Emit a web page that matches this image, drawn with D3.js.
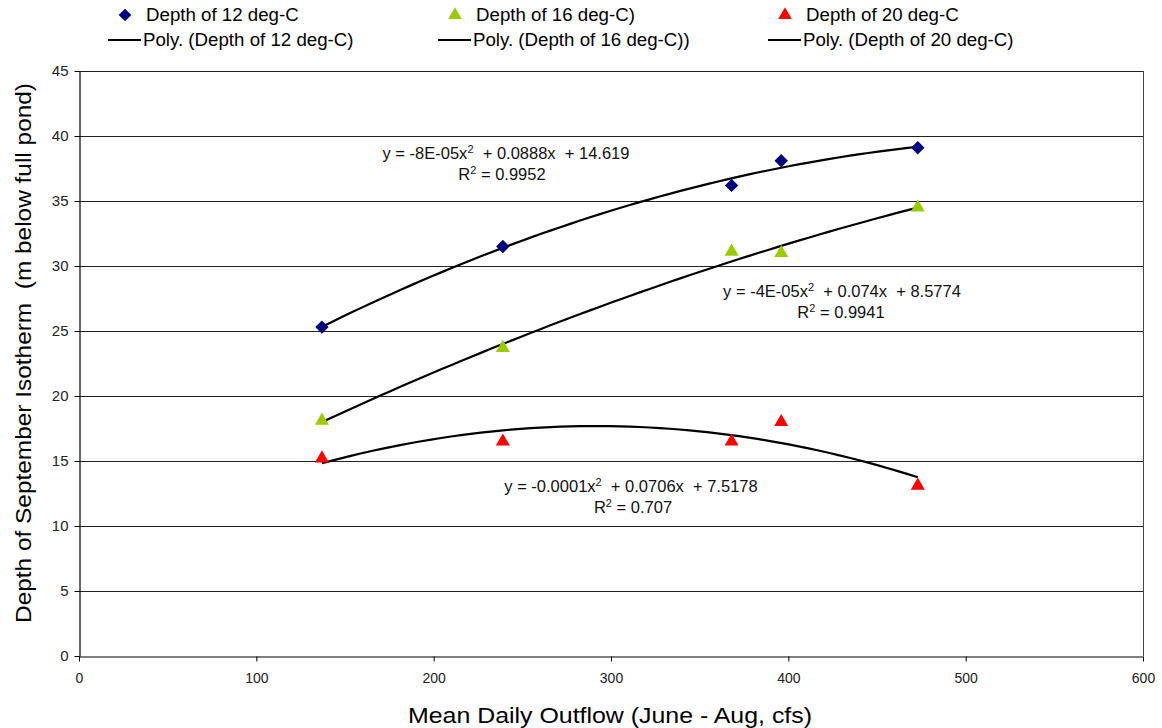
<!DOCTYPE html>
<html>
<head>
<meta charset="utf-8">
<script src="https://cdn.jsdelivr.net/npm/d3@7/dist/d3.min.js"></script>
<style>
  html, body { margin: 0; padding: 0; background: #fff; }
  svg { display: block; font-family: "Liberation Sans", Arial, sans-serif; }
  .eq { white-space: pre; }
</style>
</head>
<body>
<svg id="chart" width="1162" height="728"></svg>
<script>
// Mean daily outflow (cfs) for each year sampled
const outflow = [137, 239, 368, 396, 473];
// Depth of the September isotherm (m below full pond)
const depth12 = [25.3, 31.5, 36.2, 38.1, 39.1];
const depth16 = [18.1, 23.7, 31.1, 31.0, 34.5];
const depth20 = [15.2, 16.5, 16.5, 18.0, 13.1];

const xTicks = [0, 100, 200, 300, 400, 500, 600];
const yTicks = [0, 5, 10, 15, 20, 25, 30, 35, 40, 45];

const seriesNames = ["Depth of 12 deg-C", "Depth of 16 deg-C)", "Depth of 20 deg-C"];
const trendNames = ["Poly. (Depth of 12 deg-C)", "Poly. (Depth of 16 deg-C))", "Poly. (Depth of 20 deg-C)"];
const equations = [
  ["y = -8E-05x", "  + 0.0888x  + 14.619", "0.9952"],
  ["y = -4E-05x", "  + 0.074x  + 8.5774", "0.9941"],
  ["y = -0.0001x", "  + 0.0706x  + 7.5178", "0.707"]
];

// Square rotated 45 degrees gives an even-sided diamond marker
const diamond = { draw(ctx, size) {
  const r = Math.sqrt(size / 2);
  ctx.moveTo(0, -r); ctx.lineTo(r, 0); ctx.lineTo(0, r); ctx.lineTo(-r, 0); ctx.closePath();
} };

const series = [
  { values: depth12, color: "#00007f", shape: diamond, size: 90, eq: equations[0], eqPos: [506, 159], r2x: 502 },
  { values: depth16, color: "#99cc00", shape: d3.symbolTriangle, size: 85, eq: equations[1], eqPos: [842, 297], r2x: 841 },
  { values: depth20, color: "#ff0000", shape: d3.symbolTriangle, size: 85, eq: equations[2], eqPos: [631, 492], r2x: 633 }
];

const svg = d3.select("#chart");
const plot = { left: 79, right: 1143, top: 71, bottom: 656 };

const x = d3.scaleLinear().domain([0, 600]).range([plot.left, plot.right]);
const y = d3.scaleLinear().domain([0, 45]).range([plot.bottom, plot.top]);

// Horizontal gridlines
svg.append("g")
  .selectAll("line")
  .data(yTicks.filter(t => t > 0))
  .join("line")
  .attr("x1", plot.left).attr("x2", plot.right)
  .attr("y1", d => y(d) + 0.5).attr("y2", d => y(d) + 0.5)
  .attr("stroke", "#222").attr("stroke-width", 1);

// Right border of plot area
svg.append("line")
  .attr("x1", plot.right + 0.5).attr("x2", plot.right + 0.5)
  .attr("y1", plot.top).attr("y2", plot.bottom)
  .attr("stroke", "#444").attr("stroke-width", 1);

// Axes
const xAxis = d3.axisBottom(x).tickValues(xTicks).tickSize(5).tickSizeOuter(0);
const yAxis = d3.axisLeft(y).tickValues(yTicks).tickSize(5).tickSizeOuter(0);

const gx = svg.append("g").attr("transform", `translate(0,${plot.bottom + 0.5})`).call(xAxis);
const gy = svg.append("g").attr("transform", `translate(${plot.left + 0.5},0)`).call(yAxis);

[gx, gy].forEach(g => {
  g.select(".domain").attr("stroke", "#000").attr("stroke-width", 1.2);
  g.selectAll(".tick line").attr("stroke", "#000");
  g.selectAll(".tick text")
    .attr("fill", "#222")
    .style("font-family", "'Liberation Sans', Arial, sans-serif");
});
gx.selectAll(".tick text").style("font-size", "14px").attr("dy", "1.3em");
gy.selectAll(".tick text").style("font-size", "15px").attr("x", -11);

// Axis titles
svg.append("text")
  .attr("x", 610).attr("y", 723)
  .attr("text-anchor", "middle")
  .attr("textLength", 404)
  .attr("lengthAdjust", "spacingAndGlyphs")
  .style("font-size", "22px")
  .text("Mean Daily Outflow (June - Aug, cfs)");

svg.append("text")
  .attr("transform", "translate(31,353) rotate(-90)")
  .attr("text-anchor", "middle")
  .attr("textLength", 540)
  .attr("lengthAdjust", "spacingAndGlyphs")
  .style("font-size", "22px")
  .style("white-space", "pre")
  .text("Depth of September Isotherm  (m below full pond)");

// Least-squares quadratic fit through the observed points
function quadFit(xs, ys) {
  const n = xs.length;
  const s = [0, 0, 0, 0, 0], t = [0, 0, 0];
  for (let i = 0; i < n; i++) {
    let p = 1;
    for (let k = 0; k < 5; k++) { s[k] += p; p *= xs[i]; }
    p = 1;
    for (let k = 0; k < 3; k++) { t[k] += ys[i] * p; p *= xs[i]; }
  }
  // Normal equations for c0 + c1 x + c2 x^2
  const A = [
    [s[0], s[1], s[2], t[0]],
    [s[1], s[2], s[3], t[1]],
    [s[2], s[3], s[4], t[2]]
  ];
  for (let i = 0; i < 3; i++) {
    let m = i;
    for (let r = i + 1; r < 3; r++) if (Math.abs(A[r][i]) > Math.abs(A[m][i])) m = r;
    [A[i], A[m]] = [A[m], A[i]];
    for (let r = 0; r < 3; r++) {
      if (r === i) continue;
      const f = A[r][i] / A[i][i];
      for (let c = i; c < 4; c++) A[r][c] -= f * A[i][c];
    }
  }
  const c = A.map((row, i) => row[3] / row[i]);
  return v => c[0] + c[1] * v + c[2] * v * v;
}

const line = d3.line().x(d => x(d[0])).y(d => y(d[1]));
const xMin = d3.min(outflow), xMax = d3.max(outflow);

series.forEach(s => {
  const f = quadFit(outflow, s.values);
  const pts = d3.range(0, 61).map(i => {
    const v = xMin + (xMax - xMin) * i / 60;
    return [v, f(v)];
  });
  svg.append("path")
    .attr("d", line(pts))
    .attr("fill", "none")
    .attr("stroke", "#000")
    .attr("stroke-width", 2.2);
});

// Data markers
series.forEach(s => {
  svg.append("g")
    .selectAll("path")
    .data(outflow.map((v, i) => [v, s.values[i]]))
    .join("path")
    .attr("transform", d => `translate(${x(d[0])},${y(d[1])})`)
    .attr("d", d3.symbol().type(s.shape).size(s.size))
    .attr("fill", s.color);
});

// Trendline equation labels
series.forEach(s => {
  const [cx, cy] = s.eqPos;
  const eq = svg.append("text")
    .attr("class", "eq")
    .attr("x", cx).attr("y", cy)
    .attr("text-anchor", "middle")
    .style("font-size", "16.5px")
    .attr("fill", "#111");
  eq.append("tspan").text(s.eq[0]);
  eq.append("tspan").attr("dy", -6).style("font-size", "11px").text("2");
  eq.append("tspan").attr("dy", 6).text(s.eq[1]);

  const r2 = svg.append("text")
    .attr("class", "eq")
    .attr("x", s.r2x).attr("y", cy + 21)
    .attr("text-anchor", "middle")
    .style("font-size", "16.5px")
    .attr("fill", "#111");
  r2.append("tspan").text("R");
  r2.append("tspan").attr("dy", -6).style("font-size", "11px").text("2");
  r2.append("tspan").attr("dy", 6).text(" = " + s.eq[2]);
});

// Legend
const legendCols = [108, 438, 768];
series.forEach((s, i) => {
  const lx = legendCols[i];
  svg.append("path")
    .attr("transform", `translate(${lx + 17},${15})`)
    .attr("d", d3.symbol().type(s.shape).size(80))
    .attr("fill", s.color);
  svg.append("text")
    .attr("x", lx + 38).attr("y", 21)
    .style("font-size", "18.7px")
    .text(seriesNames[i]);
  svg.append("line")
    .attr("x1", lx).attr("x2", lx + 33)
    .attr("y1", 40).attr("y2", 40)
    .attr("stroke", "#000").attr("stroke-width", 2);
  svg.append("text")
    .attr("x", lx + 35).attr("y", 46)
    .style("font-size", "18.7px")
    .text(trendNames[i]);
});
</script>
</body>
</html>
